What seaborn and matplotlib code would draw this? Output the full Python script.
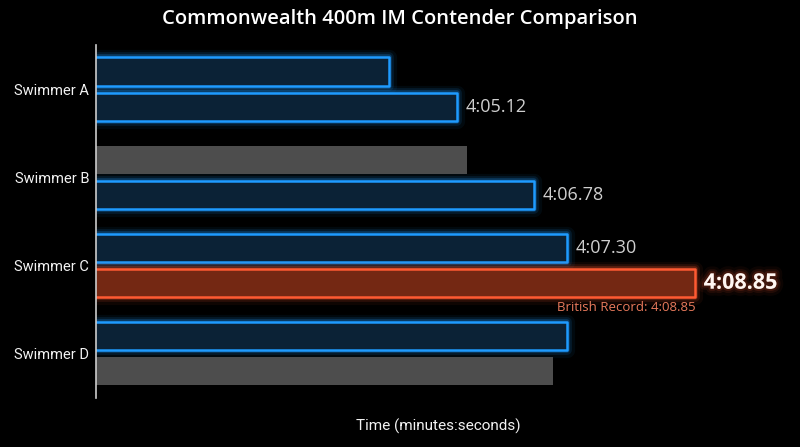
import pandas as pd
import seaborn as sns
import matplotlib
matplotlib.use("Agg")
import matplotlib.pyplot as plt
import matplotlib.patheffects as pe

# 선수별 두 개의 막대 (위/아래), 값은 초 단위 추정치
swimmers = ["Swimmer A", "Swimmer B", "Swimmer C", "Swimmer D"]
upper_secs = [244.33, 245.48, 246.96, 246.96]
lower_secs = [245.33, 246.47, 248.85, 246.75]
upper_kind = ["blue", "gray", "blue", "blue"]
lower_kind = ["blue", "blue", "red", "gray"]
upper_labels = ["", "", "4:07.30", ""]
lower_labels = ["4:05.12", "4:06.78", "4:08.85", ""]
record_note = "British Record: 4:08.85"

BG = "#000000"
FILL = {"blue": "#0b2236", "gray": "#4d4d4d", "red": "#742813"}
EDGE = {"blue": "#1e9bff", "gray": "#4d4d4d", "red": "#ff5a32"}


def glow(color, widths=(11, 7, 4), alphas=(0.06, 0.12, 0.25)):
    effects = [pe.Stroke(linewidth=w, foreground=color, alpha=a)
               for w, a in zip(widths, alphas)]
    return effects + [pe.Normal()]


def main():
    sns.set_style("dark")
    plt.rcParams["font.family"] = ["Roboto", "DejaVu Sans"]

    df = pd.DataFrame({
        "swimmer": swimmers * 2,
        "slot": ["upper"] * 4 + ["lower"] * 4,
        "secs": upper_secs + lower_secs,
    })

    fig = plt.figure(figsize=(8, 4.47), dpi=100, facecolor=BG)
    ax = fig.add_axes([0.12, 0.11, 0.855, 0.789])
    ax.set_facecolor(BG)

    sns.barplot(data=df, y="swimmer", x="secs", hue="slot", orient="h",
                order=swimmers, hue_order=["upper", "lower"],
                width=0.8, gap=0.2, legend=False, ax=ax)
    ax.set_xlim(240, 250.1)

    kinds = [upper_kind, lower_kind]
    labels = [upper_labels, lower_labels]
    for ci, cont in enumerate(ax.containers):
        for bi, bar in enumerate(cont):
            k = kinds[ci][bi]
            bar.set_facecolor(FILL[k])
            bar.set_edgecolor(EDGE[k])
            bar.set_joinstyle("round")
            if k == "gray":
                bar.set_linewidth(0)
            else:
                bar.set_linewidth(1.8)
                bar.set_path_effects(glow(EDGE[k]))
            txt = labels[ci][bi]
            if not txt:
                continue
            yc = bar.get_y() + bar.get_height() / 2
            xe = bar.get_x() + bar.get_width()
            if k == "red":
                ax.annotate(txt, (xe, yc), xytext=(6, 0), textcoords="offset points",
                            va="center", ha="left", fontsize=15.5, fontweight="bold",
                            color="#fff6f2", family=["Open Sans", "DejaVu Sans"],
                            path_effects=glow("#ff5a32", (10, 6, 3), (0.05, 0.09, 0.14)))
                ax.annotate(record_note, (xe, bar.get_y() + bar.get_height()),
                            xytext=(0, -3), textcoords="offset points",
                            va="top", ha="right", fontsize=9.5, color="#e97a5c",
                            family=["Open Sans", "DejaVu Sans"])
            else:
                ax.annotate(txt, (xe, yc), xytext=(6, 0), textcoords="offset points",
                            va="center", ha="left", fontsize=13, color="#cfcfcf",
                            family=["Open Sans", "DejaVu Sans"])

    for s in ["top", "right", "bottom"]:
        ax.spines[s].set_visible(False)
    ax.spines["left"].set_color("#cccccc")
    ax.spines["left"].set_linewidth(1.2)
    ax.grid(False)
    ax.set_xticks([])
    ax.tick_params(axis="y", length=0, pad=5, labelsize=10.5, labelcolor="#f2f2f2")
    ax.set_ylabel("")
    ax.set_xlabel("Time (minutes:seconds)", fontsize=11, color="#f2f2f2", labelpad=15)

    fig.text(0.5, 0.957, "Commonwealth 400m IM Contender Comparison", ha="center", va="center",
             fontsize=14.5, fontweight="semibold", color="#ffffff",
             family=["Open Sans", "DejaVu Sans"])

    fig.savefig("out.png", dpi=100, facecolor=BG)


if __name__ == "__main__":
    main()
